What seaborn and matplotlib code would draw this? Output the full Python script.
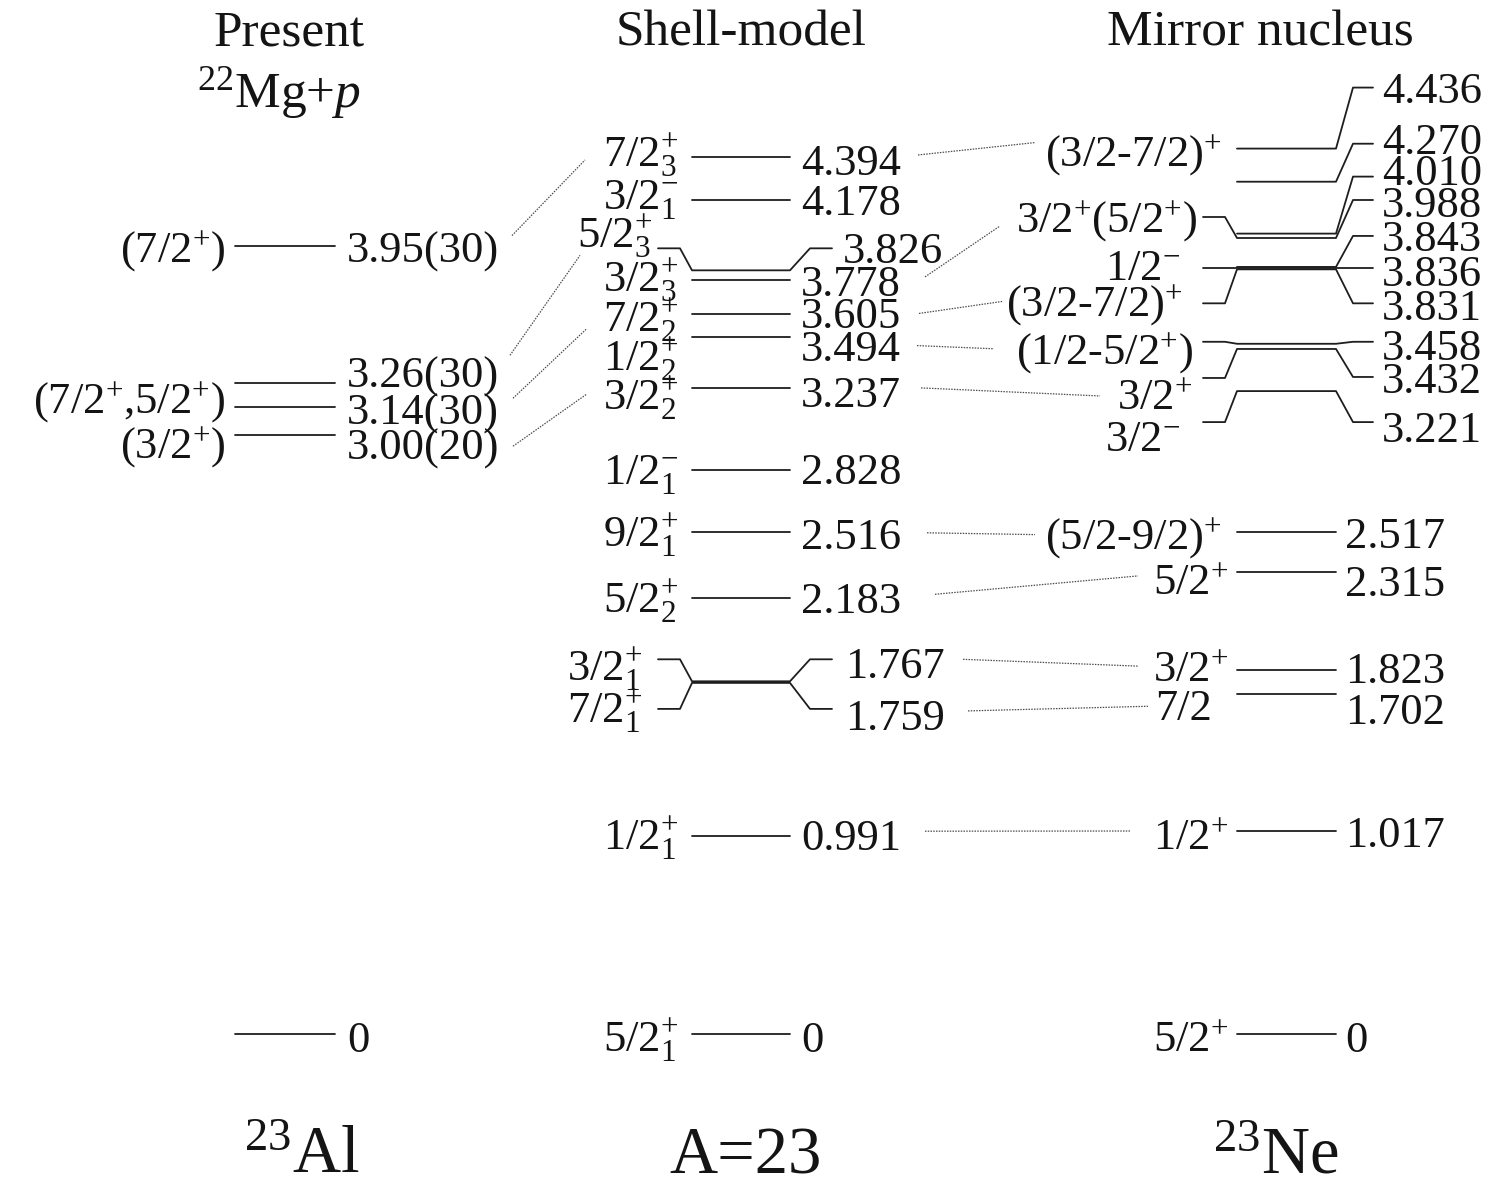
import numpy as np
import pandas as pd
import matplotlib
matplotlib.use("Agg")
import matplotlib.pyplot as plt
import seaborn as sns

# ---------------- level data (MeV) ----------------
# 23Al, present work (22Mg+p)
al23_energy = [3.95, 3.26, 3.14, 3.00, 0.0]
al23_energy_text = ["3.95(30)", "3.26(30)", "3.14(30)", "3.00(20)", "0"]
al23_spin = ["(7/2$^{+}$)", "(7/2$^{+}$,5/2$^{+}$)", "", "(3/2$^{+}$)", ""]

# A=23 shell-model
sm_energy = [4.394, 4.178, 3.826, 3.778, 3.605, 3.494, 3.237,
             2.828, 2.516, 2.183, 1.767, 1.759, 0.991, 0.0]
sm_spin = ["7/2$_{\\mathrm{3}}^{+}$", "3/2$_{\\mathrm{1}}^{-}$", "5/2$_{\\mathrm{3}}^{+}$",
           "3/2$_{\\mathrm{3}}^{+}$", "7/2$_{\\mathrm{2}}^{+}$", "1/2$_{\\mathrm{2}}^{+}$",
           "3/2$_{\\mathrm{2}}^{+}$", "1/2$_{\\mathrm{1}}^{-}$", "9/2$_{\\mathrm{1}}^{+}$",
           "5/2$_{\\mathrm{2}}^{+}$", "3/2$_{\\mathrm{1}}^{+}$", "7/2$_{\\mathrm{1}}^{+}$",
           "1/2$_{\\mathrm{1}}^{+}$", "5/2$_{\\mathrm{1}}^{+}$"]

# 23Ne, mirror nucleus
ne23_energy = [4.436, 4.270, 4.010, 3.988, 3.843, 3.836, 3.831, 3.458, 3.432, 3.221,
               2.517, 2.315, 1.823, 1.702, 1.017, 0.0]
ne23_spin = ["(3/2-7/2)$^{+}$", "", "", "3/2$^{+}$(5/2$^{+}$)", "", "1/2$^{-}$",
             "(3/2-7/2)$^{+}$", "(1/2-5/2$^{+}$)", "3/2$^{+}$", "3/2$^{-}$",
             "(5/2-9/2)$^{+}$", "5/2$^{+}$", "3/2$^{+}$", "7/2", "1/2$^{+}$", "5/2$^{+}$"]

column_titles = ["Present", "Shell-model", "Mirror nucleus"]
column_nuclei = ["$^{23}$Al", "A=23", "$^{23}$Ne"]
reaction_text = "$^{22}$Mg+$p$"


def energy_text(e):
    return "0" if e == 0 else f"{e:.3f}"


# ---------------- layout ----------------
W, H = 1503, 1188
Y0, S = 1034.0, 199.6          # vertical position of E=0 and pixels per MeV


def e2px(e):
    return Y0 - S * np.asarray(e, dtype=float)


def px2e(p):
    return (Y0 - np.asarray(p, dtype=float)) / S


LABEL_PT = 32
LINE_COLOR = "#1e1e1e"
TEXT_COLOR = "#141414"

# left column
al_line = (235, 335)
al_text_x, al_spin_x = 347, 225
al_text_dy = [2, -10, 3, 10, 3]
al_spin_dy = [2, 16, 0, 9, 0]

# middle column
sm_line = (692, 790)
sm_lstub, sm_rstub = (658, 680), (810, 832)
sm_text_x = [801, 801, 843, 801, 801, 801, 801, 801, 801, 801, 845, 845, 801, 801]
sm_text_dy = [3, 0, -22, 1, -1, 10, 4, 0, 3, 0, -18, 32, -1, 3]
sm_spin_x = [678, 678, 652, 678, 678, 678, 678, 678, 678, 678, 642, 642, 678, 678]
sm_spin_dy = [-5, -6, -37, -3, 3, 20, 7, 0, 1, 0, -15, 25, -1, 3]
sm_kink = {2: (-22, -22), 10: (-22, -22), 11: (26, 26)}

# right column
ne_line = (1237, 1336)
ne_lstub, ne_rstub = (1203, 1225), (1353, 1373)
ne_text_x = [1382] * 10 + [1345] * 6
ne_text_dy = [-60, -42, -63, -36, -31, 3, 36, 2, 29, 36, 2, 9, -2, 15, 1, 3]
ne_spin_x = [1222, 0, 0, 1197, 0, 1180, 1183, 1193, 1192, 1180,
             1222, 1228, 1228, 1212, 1228, 1228]
ne_spin_dy = [3, 0, 0, -20, 0, -3, 33, 6, 46, 45, 3, 8, -3, 11, 4, 3]
ne_kink_right = [-61, -38, -57, -38, -31, 0, 34, -2, 28, 31]
ne_kink_left = {3: -21, 5: 0, 6: 34, 7: -2, 8: 29, 9: 31}

# ---------------- style ----------------
sns.set_theme(style="white")
plt.rcParams["font.family"] = ["Liberation Serif", "DejaVu Serif"]
plt.rcParams["mathtext.fontset"] = "custom"
plt.rcParams["mathtext.rm"] = "Liberation Serif"
plt.rcParams["mathtext.it"] = "Liberation Serif:italic"
plt.rcParams["mathtext.bf"] = "Liberation Serif:bold"

fig = plt.figure(figsize=(W / 100, H / 100), dpi=100)
ax = fig.add_axes([0, 0, 1, 1])
ax.set_xlim(0, W)
ax.set_ylim(float(px2e(H)), float(px2e(0)))
ax.axis("off")


def put(x, yc_px, s, ha, size=LABEL_PT):
    size_px = size * 100 / 72
    ax.text(x, float(px2e(yc_px + 0.33 * size_px)), s, ha=ha, va="baseline",
            fontsize=size, color=TEXT_COLOR)


# ---------------- level paths ----------------
rows = []


def add_path(pid, pts):
    for k, (x, e) in enumerate(pts):
        rows.append({"path": pid, "order": k, "x": x, "E": float(e)})


# 23Al
al_text_c, al_spin_c = [], []
for i, e in enumerate(al23_energy):
    add_path(f"al{i}", [(al_line[0], e), (al_line[1], e)])
    yl = float(e2px(e))
    al_text_c.append(yl + al_text_dy[i])
    al_spin_c.append(yl + al_spin_dy[i])

# shell model
sm_text_c, sm_spin_c = [], []
for i, e in enumerate(sm_energy):
    yl = float(e2px(e))
    pts = []
    if i in sm_kink:
        ly = px2e(yl + sm_kink[i][0])
        pts += [(sm_lstub[0], ly), (sm_lstub[1], ly)]
    pts += [(sm_line[0], e), (sm_line[1], e)]
    if i in sm_kink:
        ry = px2e(yl + sm_kink[i][1])
        pts += [(sm_rstub[0], ry), (sm_rstub[1], ry)]
    add_path(f"sm{i}", pts)
    sm_text_c.append(yl + sm_text_dy[i])
    sm_spin_c.append(yl + sm_spin_dy[i])

# 23Ne
ne_text_c, ne_spin_c = [], []
for i, e in enumerate(ne23_energy):
    yl = float(e2px(e))
    pts = []
    if i in ne_kink_left:
        ly = px2e(yl + ne_kink_left[i])
        pts += [(ne_lstub[0], ly), (ne_lstub[1], ly)]
    pts += [(ne_line[0], e), (ne_line[1], e)]
    if i < len(ne_kink_right):
        ry = px2e(yl + ne_kink_right[i])
        pts += [(ne_rstub[0], ry), (ne_rstub[1], ry)]
    add_path(f"ne{i}", pts)
    ne_text_c.append(yl + ne_text_dy[i])
    ne_spin_c.append(yl + ne_spin_dy[i])

levels = pd.DataFrame(rows)
sns.lineplot(data=levels, x="x", y="E", units="path", estimator=None, sort=False,
             color=LINE_COLOR, linewidth=1.3, legend=False, ax=ax)

# ---------------- dotted correspondence lines ----------------
left_links = [(0, 0, 512, -12, 585, 8), (1, 2, 510, -18, 580, 22),
              (2, 4, 513, -12, 587, 11), (3, 6, 513, 1, 587, -1)]
right_links = [(0, 0, 918, -5, 1035, -9), (3, 3, 925, -4, 1000, 8),
               (4, 6, 919, 0, 1003, -1), (5, 7, 917, -1, 994, -1),
               (6, 8, 921, -4, 1100, 1), (8, 10, 927, -2, 1035, 0),
               (9, 11, 935, -4, 1138, -4), (10, 12, 963, -4, 1138, -1),
               (11, 13, 968, -4, 1148, 1), (12, 14, 925, -4, 1130, -4)]
link_rows = []
for k, (a, b, x0, d0, x1, d1) in enumerate(left_links):
    link_rows += [{"link": f"L{k}", "x": x0, "E": float(px2e(al_text_c[a] + d0))},
                  {"link": f"L{k}", "x": x1, "E": float(px2e(sm_spin_c[b] + d1))}]
for k, (a, b, x0, d0, x1, d1) in enumerate(right_links):
    link_rows += [{"link": f"R{k}", "x": x0, "E": float(px2e(sm_text_c[a] + d0))},
                  {"link": f"R{k}", "x": x1, "E": float(px2e(ne_spin_c[b] + d1))}]
links = pd.DataFrame(link_rows)
sns.lineplot(data=links, x="x", y="E", units="link", estimator=None, sort=False,
             color="#4d4d4d", linewidth=0.9, linestyle=(0, (1.2, 1.0)),
             legend=False, ax=ax)

# ---------------- labels ----------------
for i, e in enumerate(al23_energy):
    put(al_text_x, al_text_c[i], al23_energy_text[i], "left")
    if al23_spin[i]:
        put(al_spin_x, al_spin_c[i], al23_spin[i], "right")

for i, e in enumerate(sm_energy):
    put(sm_text_x[i], sm_text_c[i], energy_text(e), "left")
    put(sm_spin_x[i], sm_spin_c[i], sm_spin[i], "right")

for i, e in enumerate(ne23_energy):
    put(ne_text_x[i], ne_text_c[i], energy_text(e), "left")
    if ne23_spin[i]:
        put(ne_spin_x[i], ne_spin_c[i], ne23_spin[i], "right")

# column headings and nuclei
title_x = [289, 741, 1260]
for x, t in zip(title_x, column_titles):
    ax.text(x, float(px2e(45)), t, ha="center", va="baseline", fontsize=37, color=TEXT_COLOR)
ax.text(279, float(px2e(107)), reaction_text, ha="center", va="baseline",
        fontsize=37, color=TEXT_COLOR)

nucleus_x = [302, 746, 1276]
for x, t in zip(nucleus_x, column_nuclei):
    ax.text(x, float(px2e(1173)), t, ha="center", va="baseline", fontsize=48, color=TEXT_COLOR)

fig.savefig("out.png", dpi=100)
